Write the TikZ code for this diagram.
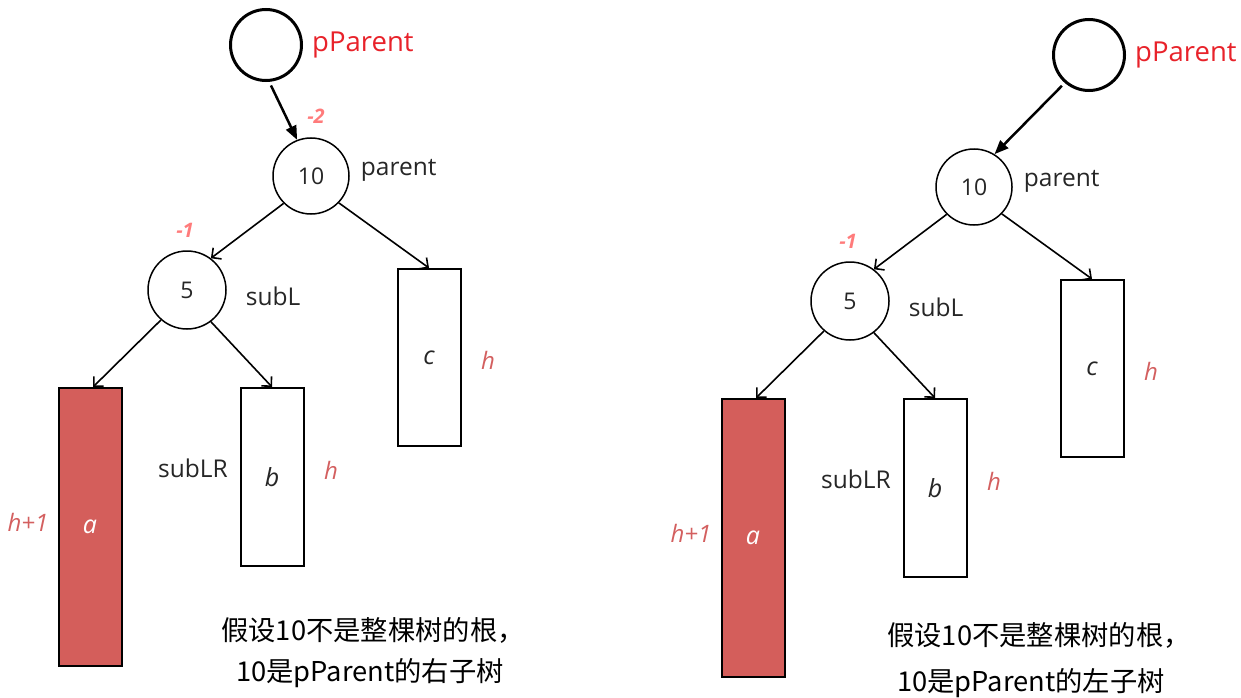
\documentclass[tikz,border=0pt]{standalone}
\usepackage{fontspec}
\setmainfont{Open Sans}
\newfontfamily\cjk{Noto Sans CJK SC}
\usetikzlibrary{arrows.meta,positioning}
\definecolor{ppred}{HTML}{E8222A}
\definecolor{balred}{HTML}{FF7B7B}
\definecolor{hred}{HTML}{D35F5F}
\definecolor{treefill}{HTML}{D45E5B}
\definecolor{txtgray}{HTML}{262626}

\begin{document}
\begin{tikzpicture}[
    x=1pt, y=-1pt,
    >={Straight Barb[length=7pt,width=14pt]},
    num/.style={circle, draw, line width=1.5pt, minimum size=76pt, inner sep=0pt, text=txtgray, font=\fontsize{23}{26}\selectfont},
    ppnode/.style={circle, draw, line width=3pt, minimum size=71pt},
    subtree/.style={draw, line width=2pt, minimum width=63pt, inner sep=0pt, text=txtgray, font=\fontsize{25}{28}\selectfont\itshape},
    tag/.style={text=txtgray, inner sep=0pt, font=\fontsize{24.5}{28}\selectfont},
    pptag/.style={text=ppred, inner sep=0pt, font=\fontsize{27.5}{30}\selectfont},
    hlab/.style={text=hred, inner sep=0pt, font=\fontsize{24}{26}\selectfont\itshape},
    bal/.style={text=balred, inner sep=0pt, font=\fontsize{20}{24}\selectfont\bfseries\itshape},
    note/.style={inner sep=0pt, font=\fontsize{27.3}{30}\selectfont\cjk},
    edge/.style={->, line width=1.6pt},
    link/.style={-{Triangle[length=14pt,width=11pt]}, line width=2.5pt}
]
\useasboundingbox (0,0) rectangle (1241,698);

% left: 10 is the right child of pParent
\node[ppnode] (Lpp) at (266,45) {};
\node[pptag, right=9pt of Lpp] (Lpptag) {pParent};
\node[num] (L10) at (311,176) {10};
\node[tag, right=11pt of L10, yshift=6pt] (L10tag) {parent};
\node[num, minimum size=78pt] (L5) at (187,290) {5};
\node[tag, right=19pt of L5, yshift=-6pt] (L5tag) {subL};
\node[subtree, fill=treefill, text=white, minimum height=278pt] (La) at (90,527) {a};
\node[subtree, minimum height=178pt] (Lb) at (272,477) {b};
\node[subtree, minimum height=177pt] (Lc) at (429,357.5) {c};
\node[tag] (LbLR) at (193,468) {subLR};
\node[hlab] (Lha) at (28,522) {h+1};
\node[hlab] (Lhb) at (331,470) {h};
\node[hlab] (Lhc) at (488,360) {h};
\node[bal] (Lbal10) at (316,116) {-2};
\node[bal] (Lbal5) at (185,230) {-1};

\draw[link, shorten <=4pt] (Lpp.275) -- (L10.111);
\draw[edge] (L10.225) -- (L5.53);
\draw[edge] (L10.316) -- (Lc.north);
\draw[edge] (L5.229) -- ([xshift=3pt]La.north);
\draw[edge] (L5.307) -- (Lb.north);

\node[note] (Lnote1) at (373,630) {假设10不是整棵树的根，};
\node[note] (Lnote2) at (370,673) {10是pParent的右子树};

% right: 10 is the left child of pParent
\begin{scope}[shift={(663,11)}]
\node[ppnode] (Rpp) at (426,44) {};
\node[pptag, right=9pt of Rpp] (Rpptag) {pParent};
\node[num] (R10) at (311,176) {10};
\node[tag, right=11pt of R10, yshift=6pt] (R10tag) {parent};
\node[num, minimum size=78pt] (R5) at (187,290) {5};
\node[tag, right=19pt of R5, yshift=-6pt] (R5tag) {subL};
\node[subtree, fill=treefill, text=white, minimum height=278pt] (Ra) at (90,527) {a};
\node[subtree, minimum height=178pt] (Rb) at (272,477) {b};
\node[subtree, minimum height=177pt] (Rc) at (429,357.5) {c};
\node[tag] (RbLR) at (193,468) {subLR};
\node[hlab] (Rha) at (28,522) {h+1};
\node[hlab] (Rhb) at (331,470) {h};
\node[hlab] (Rhc) at (488,360) {h};
\node[bal] (Rbal5) at (185,230) {-1};

\draw[link, shorten <=4pt] (Rpp.229) -- (R10.58);
\draw[edge] (R10.225) -- (R5.53);
\draw[edge] (R10.316) -- (Rc.north);
\draw[edge] (R5.229) -- ([xshift=3pt]Ra.north);
\draw[edge] (R5.307) -- (Rb.north);

\node[note] (Rnote1) at (376,624) {假设10不是整棵树的根，};
\node[note] (Rnote2) at (368,672) {10是pParent的左子树};
\end{scope}
\end{tikzpicture}
\end{document}
